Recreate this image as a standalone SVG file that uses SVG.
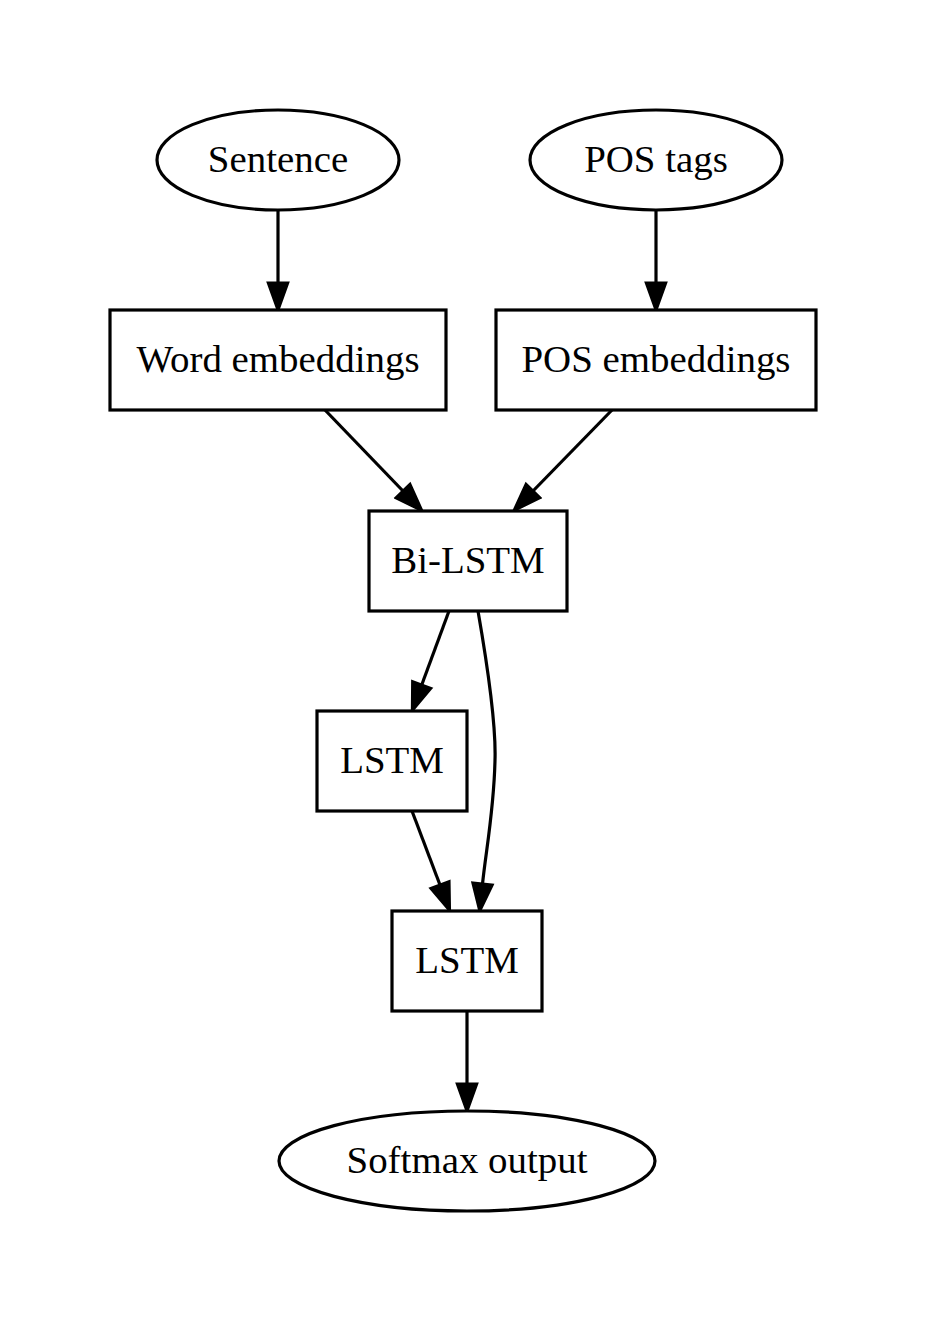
<svg xmlns="http://www.w3.org/2000/svg" width="928" height="1323" viewBox="0 0 928 1323">
<style>
.n{fill:#fff;stroke:#000;stroke-width:3.2}
.e{fill:none;stroke:#000;stroke-width:3.2}
text{font-family:"Liberation Serif","Times New Roman",serif;font-size:38.9px;text-anchor:middle;fill:#000}
</style>
<defs>
<marker id="ah" viewBox="-2 -12 32 24" markerWidth="32" markerHeight="24" refX="0" refY="0" orient="auto" markerUnits="userSpaceOnUse">
<path d="M0,-9.7 L27,0 L0,9.7 Z" fill="#000" stroke="#000" stroke-width="3"/>
</marker>
</defs>
<rect width="928" height="1323" fill="#fff"/>
<g id="edges">
<path class="e" marker-end="url(#ah)" d="M278,210 L278,283"/>
<path class="e" marker-end="url(#ah)" d="M656,210 L656,283"/>
<path class="e" marker-end="url(#ah)" d="M325,410 L403,491"/>
<path class="e" marker-end="url(#ah)" d="M612,410 L533,491"/>
<path class="e" marker-end="url(#ah)" d="M449,611 L421.7,685"/>
<path class="e" marker-end="url(#ah)" d="M412,811 L440,885"/>
<path class="e" marker-end="url(#ah)" d="M478,611 C490,680 496,730 495,760 C494,810 486,850 482.5,884"/>
<path class="e" marker-end="url(#ah)" d="M467,1011 L467,1084"/>
</g>
<g id="sentence"><ellipse class="n" cx="278" cy="160" rx="121" ry="50"/><text x="278" y="172">Sentence</text></g>
<g id="postags"><ellipse class="n" cx="656" cy="160" rx="126" ry="50"/><text x="656" y="172">POS tags</text></g>
<g id="wordemb"><rect class="n" x="110" y="310" width="336" height="100"/><text x="278" y="372">Word embeddings</text></g>
<g id="posemb"><rect class="n" x="496" y="310" width="320" height="100"/><text x="656" y="372">POS embeddings</text></g>
<g id="bilstm"><rect class="n" x="369" y="511" width="198" height="100"/><text x="468" y="573">Bi-LSTM</text></g>
<g id="lstm1"><rect class="n" x="317" y="711" width="150" height="100"/><text x="392" y="773">LSTM</text></g>
<g id="lstm2"><rect class="n" x="392" y="911" width="150" height="100"/><text x="467" y="973">LSTM</text></g>
<g id="softmax"><ellipse class="n" cx="467" cy="1161" rx="188" ry="50"/><text x="467" y="1173">Softmax output</text></g>
</svg>
